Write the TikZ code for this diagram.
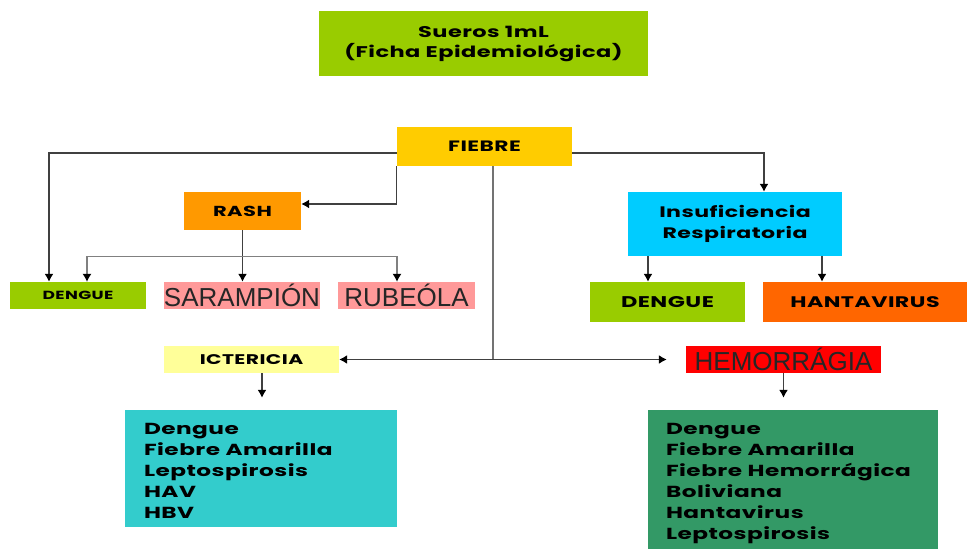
\documentclass[tikz,border=0pt]{standalone}
\usepackage{fontspec}
\setmainfont{Poppins}[FakeStretch=1.45, LetterSpace=3]
\newfontfamily\arialfont{Liberation Sans}
\usetikzlibrary{arrows.meta,positioning,calc}
\definecolor{cgreen}{HTML}{99CC00}
\definecolor{cyellow}{HTML}{FFCC00}
\definecolor{corange}{HTML}{FF9900}
\definecolor{cpink}{HTML}{FF9999}
\definecolor{ccyan}{HTML}{00CCFF}
\definecolor{chanta}{HTML}{FF6600}
\definecolor{clight}{HTML}{FFFF99}
\definecolor{cred}{HTML}{FF0000}
\definecolor{cteal}{HTML}{33CCCC}
\definecolor{cdark}{HTML}{339966}
\definecolor{cline}{HTML}{404040}
\tikzset{
  fbox/.style={inner sep=0pt, align=center, font=\bfseries},
  bsize/.style 2 args={minimum width=#1pt, minimum height=#2pt},
  fs/.style={font=\fontsize{#1}{#1}\selectfont\bfseries},
  fs2/.style 2 args={font=\fontsize{#1}{#2}\selectfont\bfseries},
  big/.style={font=\arialfont\fontsize{26}{26}\selectfont, text=black!85},
  nlist/.style={fbox, align=left, anchor=north west, inner xsep=19pt, inner ysep=0pt,
                font=\fontsize{16}{21}\selectfont\bfseries},
  flow/.style={-{Latex[length=8pt,width=9pt,color=black]}, line width=1.3pt, draw=cline},
  flowl/.style={{Latex[length=8pt,width=9pt,color=black]}-{Latex[length=8pt,width=9pt,color=black]},
                line width=1.1pt, draw=black!50},
  flowb/.style={{Latex[length=8pt,width=9pt,color=black]}-{Latex[length=8pt,width=9pt,color=black]},
                line width=1.3pt, draw=cline},
  line/.style={line width=1.3pt, draw=black!55},
}
\begin{document}
\begin{tikzpicture}[x=1pt, y=-1pt]
  \useasboundingbox (0,0) rectangle (967,549);
  \node[fbox, fill=cgreen, bsize={329}{65}, fs2={15.5}{20}] (suero) at (483.5,43.5) {Sueros 1mL\\(Ficha Epidemiológica)};
  \node[fbox, fill=cyellow, bsize={175}{39}, fs=15] (fiebre) at (484.5,146.5) {FIEBRE};
  \node[fbox, fill=corange, bsize={117}{38}, fs=14.5] (rash) at (242.5,211) {RASH};
  \node[fbox, fill=cgreen, bsize={136}{27}, fs=11.8] (dengA) at (78,295.5) {DENGUE};
  \node[fbox, fill=cpink, bsize={156}{27}, big] (saram) at (242,295.5) {SARAMPIÓN};
  \node[fbox, fill=cpink, bsize={137}{27}, big] (rubeo) at (406.5,295.5) {RUBEÓLA};
  \node[fbox, fill=ccyan, bsize={214}{64}, fs2={15.2}{21}] (insuf) at (735,224) {Insuficiencia\\Respiratoria};
  \node[fbox, fill=cgreen, bsize={155}{40}, fs=15.5] (dengB) at (667.5,302) {DENGUE};
  \node[fbox, fill=chanta, bsize={204}{40}, fs=15.3] (hanta) at (865,302) {HANTAVIRUS};
  \node[fbox, fill=clight, bsize={175}{27}, fs=14] (icter) at (251.5,359.5) {ICTERICIA};
  \node[fbox, fill=cred, bsize={195}{27}, big] (hemor) at (783.5,359.5) {HEMORRÁGIA};
  \node[fill=cteal, minimum width=272pt, minimum height=117pt, inner sep=0pt] (listA) at (261,468.5) {};
  \node[nlist] (txtA) at ([yshift=-13pt]listA.north west) {Dengue\\Fiebre Amarilla\\Leptospirosis\\HAV\\HBV};
  \node[fill=cdark, minimum width=290pt, minimum height=139pt, inner sep=0pt] (listB) at (793,479.5) {};
  \node[nlist, inner xsep=18pt] (txtB) at ([yshift=-13pt]listB.north west) {Dengue\\Fiebre Amarilla\\Fiebre Hemorrágica\\Boliviana\\Hantavirus\\Leptospirosis};
  \draw[flow] ([yshift=-6.5pt]fiebre.west) -| ([xshift=-29pt]dengA.north);
  \draw[flow] (fiebre.south west) |- ([yshift=7pt]rash.east);
  \draw[flow] (rash.south) -- (rash.south |- saram.north);
  \draw[flowl] ([xshift=9pt]dengA.north) -- ++(0,-25) -| ([xshift=-9.5pt]rubeo.north);
  \draw[flow] ([yshift=-6.5pt]fiebre.east) -| ([xshift=29pt]insuf.north);
  \draw[line] ([xshift=8.5pt]fiebre.south) -- ([xshift=8.5pt]fiebre.south |- icter.east);
  \draw[flowb, shorten >=19pt] (icter.east) -- (hemor.west);
  \draw[flow] ([xshift=-87pt]insuf.south) -- ([xshift=-87pt]insuf.south |- dengB.north);
  \draw[flow] ([xshift=87pt]insuf.south) -- ([xshift=87pt]insuf.south |- hanta.north);
  \draw[flow, shorten >=12pt] ([xshift=10.5pt]icter.south) -- ([xshift=10.5pt]icter.south |- listA.north);
  \draw[flow, shorten >=12pt] (hemor.south) -- (hemor.south |- listB.north);
\end{tikzpicture}
\end{document}
